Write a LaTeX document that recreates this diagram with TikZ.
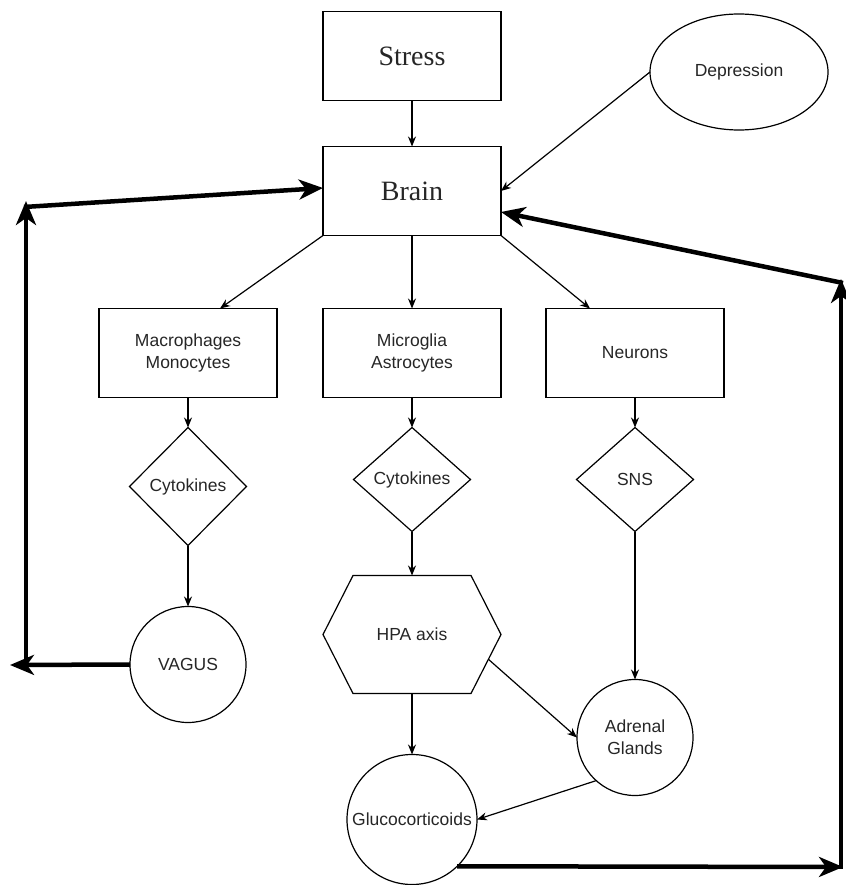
\documentclass[tikz,border=0pt]{standalone}
\usepackage{fontspec}
\setmainfont{Liberation Sans}
\newfontfamily\boxserif{Liberation Serif}
\usetikzlibrary{positioning,arrows.meta,shapes.geometric,calc}

\begin{document}
\begin{tikzpicture}[
			x=1pt, y=-1pt,
			>={Stealth[length=10pt,width=8pt]},
			every node/.style={
				inner sep=0pt,
				outer sep=0pt,
				text=black!85,
				font=\fontsize{17.5}{22}\selectfont,
				align=center
			},
			box/.style={draw, line width=1.2pt, minimum width=178pt, minimum height=89pt},
			bigbox/.style={box, font=\boxserif\fontsize{28}{30}\selectfont},
			choice/.style={draw, diamond, line width=1.2pt, minimum width=117pt, minimum height=104pt},
			organ/.style={draw, circle, line width=1.2pt, minimum size=116pt},
			link/.style={->, line width=1.2pt},
			loopback/.style={-{Stealth[length=24pt,width=20pt,inset=7pt]}, line width=4.5pt}
			]
			
			\useasboundingbox (0,0) rectangle (845,885);
			
			%--------------------------------------------------
			% Top
			%--------------------------------------------------
			
			\node[bigbox] (stress) at (412,56) {Stress};
			
			\node[bigbox, below=46pt of stress] (brain) {Brain};
			
			\node[draw, ellipse, line width=1.2pt, minimum width=178pt, minimum height=116pt] (dep) at (739,72) {Depression};
			
			%--------------------------------------------------
			% Cells
			%--------------------------------------------------
			
			\node[box, below=73pt of brain] (micro) {Microglia\\Astrocytes};
			
			\node[box, left=46pt of micro] (macro) {Macrophages\\Monocytes};
			
			\node[box, right=45pt of micro] (neu) {Neurons};
			
			%--------------------------------------------------
			% Signals
			%--------------------------------------------------
			
			\node[choice, minimum height=118pt, below=30pt of macro] (cyt1) {Cytokines};
			
			\node[choice, below=30pt of micro] (cyt2) {Cytokines};
			
			\node[choice, below=30pt of neu] (sns) {SNS};
			
			%--------------------------------------------------
			% Bottom
			%--------------------------------------------------
			
			\node[organ, below=61pt of cyt1] (vagus) {VAGUS};
			
			\node[minimum width=178pt, minimum height=118pt, below=44pt of cyt2] (hpa) {HPA axis};
			
			\coordinate (hpa tl) at ([xshift=30pt]hpa.north west);
			\coordinate (hpa tr) at ([xshift=-30pt]hpa.north east);
			\coordinate (hpa br) at ([xshift=-30pt]hpa.south east);
			\coordinate (hpa bl) at ([xshift=30pt]hpa.south west);
			\draw[line width=1.2pt] (hpa.west) -- (hpa tl) -- (hpa tr) -- (hpa.east) -- (hpa br) -- (hpa bl) -- cycle;
			\coordinate (hpa out) at ($(hpa.east)!.42!(hpa br)$);
			
			\node[organ, below=148pt of sns] (adr) {Adrenal\\Glands};
			
			\node[organ, minimum size=130pt, below=61pt of hpa] (glu) {Glucocorticoids};
			
			%--------------------------------------------------
			% Flow
			%--------------------------------------------------
			
			\draw[link] (stress) -- (brain);
			
			\draw[link] (dep.west) -- (brain.east);
			
			\draw[link] (brain.south west) -- ([xshift=32pt]macro.north);
			
			\draw[link] (brain) -- (micro);
			
			\draw[link] (brain.south east) -- ([xshift=-45pt]neu.north);
			
			\draw[link] (macro) -- (cyt1);
			
			\draw[link] (cyt1) -- (vagus);
			
			\draw[link] (micro) -- (cyt2);
			
			\draw[link] (cyt2) -- (hpa);
			
			\draw[link] (neu) -- (sns);
			
			\draw[link] (sns) -- (adr);
			
			\draw[link] (hpa) -- (glu);
			
			\draw[link] (hpa out) -- (adr.west);
			
			\draw[link] (adr.228) -- (glu.east);
			
			%--------------------------------------------------
			% Feedback
			%--------------------------------------------------
			
			\coordinate (vleft) at (10,665);
			\coordinate (lbot) at (26,667);
			\coordinate (ltop) at (26,201);
			\coordinate (lcorner) at (24,207);
			
			\draw[loopback] (vagus.west) -- (vleft);
			
			\draw[loopback] (lbot) -- (ltop);
			
			\draw[loopback] (lcorner) -- ([yshift=3pt]brain.west);
			
			\coordinate (rbot) at (843,867);
			\coordinate (rlow) at (841,869);
			\coordinate (rtop) at (841,279);
			\coordinate (rcorner) at (843,283);
			
			\draw[loopback] (glu.-46) -- (rbot);
			
			\draw[loopback] (rlow) -- (rtop);
			
			\draw[loopback] (rcorner) -- ([yshift=-21pt]brain.east);
			
		\end{tikzpicture}
\end{document}
